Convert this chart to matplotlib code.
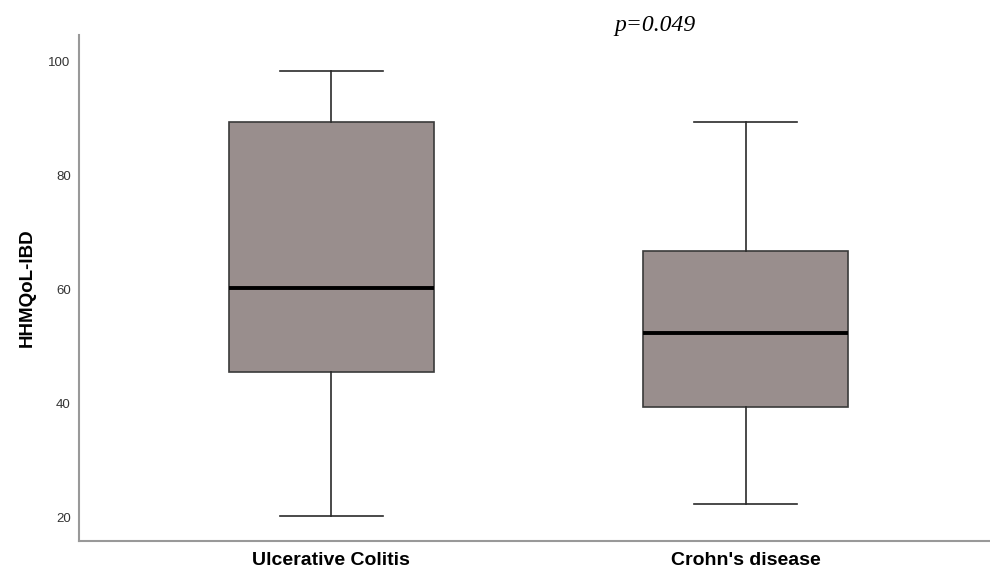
import matplotlib.pyplot as plt

# HHMQoL-IBD score summary per diagnosis
groups = ["Ulcerative Colitis", "Crohn's disease"]
whisker_low = [20.2, 22.3]
q1 = [45.4, 39.3]
median = [60.3, 52.4]
q3 = [89.3, 66.8]
whisker_high = [98.4, 89.3]
p_label = "p=0.049"

stats = []
for i, name in enumerate(groups):
    stats.append(dict(label=name, whislo=whisker_low[i], q1=q1[i], med=median[i],
                      q3=q3[i], whishi=whisker_high[i], fliers=[]))

fig = plt.figure(figsize=(9.9, 5.7), dpi=100)
ax = fig.add_axes([0.0798, 0.051, 0.9202, 0.888])

ax.bxp(stats, positions=[1, 2], widths=0.495, capwidths=0.25,
       showfliers=False, patch_artist=True,
       boxprops=dict(facecolor='#998e8d', edgecolor='#3a3a3a', linewidth=1.2),
       medianprops=dict(color='black', linewidth=2.8),
       whiskerprops=dict(color='#2a2a2a', linewidth=1.2),
       capprops=dict(color='#2a2a2a', linewidth=1.2))

ax.set_xlim(0.391, 2.59)
ax.set_ylim(15.8, 104.7)
ax.set_yticks([20, 40, 60, 80, 100])

for side in ('top', 'right'):
    ax.spines[side].set_visible(False)
for side in ('left', 'bottom'):
    ax.spines[side].set_color('#999999')
    ax.spines[side].set_linewidth(1.5)

ax.tick_params(axis='y', length=0, pad=6, labelsize=9.5, labelcolor='#333333')
ax.tick_params(axis='x', length=0, pad=8)
for lbl in ax.get_yticklabels():
    lbl.set_fontfamily('Liberation Sans')
ax.set_xticks([1, 2])
ax.set_xticklabels(groups, fontsize=14, fontweight='bold', fontfamily='Liberation Sans')
ax.set_ylabel("HHMQoL-IBD", fontsize=13.5, fontweight='bold',
              fontfamily='Liberation Sans', labelpad=9)

fig.text(0.621, 0.956, p_label, fontsize=17, fontstyle='italic',
         fontfamily='Liberation Serif', va='center', ha='left')

fig.savefig('out.png', dpi=100, facecolor='white')
